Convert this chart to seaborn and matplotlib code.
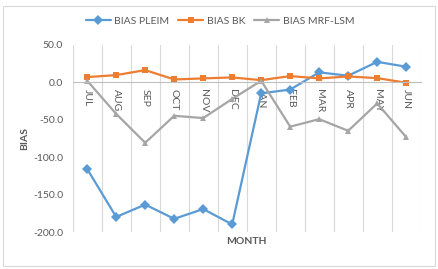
import pandas as pd
import matplotlib.pyplot as plt
import seaborn as sns
from matplotlib.patches import Rectangle

months = ['JUL', 'AUG', 'SEP', 'OCT', 'NOV', 'DEC', 'JAN', 'FEB', 'MAR', 'APR', 'MAY', 'JUN']
bias_pleim = [-115.5, -179.5, -163.0, -182.0, -169.0, -189.5, -14.5, -9.5, 13.5, 9.0, 27.5, 21.0]
bias_bk = [7.2, 9.8, 16.5, 4.0, 5.4, 6.7, 3.1, 8.5, 5.4, 8.0, 5.8, -0.4]
bias_mrf = [2.3, -42.0, -80.5, -44.5, -47.5, -22.0, 2.3, -59.0, -49.0, -64.5, -28.0, -73.0]

series_names = ['BIAS PLEIM', 'BIAS BK', 'BIAS MRF-LSM']
colors = {'BIAS PLEIM': '#5B9BD5', 'BIAS BK': '#ED7D31', 'BIAS MRF-LSM': '#A5A5A5'}
markers = {'BIAS PLEIM': 'D', 'BIAS BK': 's', 'BIAS MRF-LSM': '^'}

rows = []
for name, vals in zip(series_names, [bias_pleim, bias_bk, bias_mrf]):
    for i, v in enumerate(vals):
        rows.append({'idx': i, 'BIAS': v, 'series': name})
df = pd.DataFrame(rows)

sns.set_style('white')
plt.rcParams['font.family'] = ['Lato', 'DejaVu Sans']

fig = plt.figure(figsize=(4.39, 2.69), dpi=100)
ax = fig.add_axes([72.7 / 439, 1 - 232.3 / 269, 348 / 439, 187.3 / 269])

sns.lineplot(data=df, x='idx', y='BIAS', hue='series', style='series',
             hue_order=series_names, style_order=series_names,
             palette=colors, markers=markers, dashes=False,
             linewidth=1.6, markersize=5, markeredgewidth=0, ax=ax, legend=True)

# excel style: category axis crosses at zero
for s in ['top', 'right', 'left']:
    ax.spines[s].set_visible(False)
ax.spines['bottom'].set_position(('data', 0))
ax.spines['bottom'].set_color('#BFBFBF')
ax.spines['bottom'].set_linewidth(0.8)
ax.set_xlabel('')
ax.set_ylabel('')

ax.set_xlim(-0.5, 11.5)
ax.set_ylim(-200, 50)
ax.set_yticks([50, 0, -50, -100, -150, -200])
ax.set_yticklabels(['50.0', '0.0', '-50.0', '-100.0', '-150.0', '-200.0'])

ax.set_xticks(range(len(months)))
ax.set_xticks([i - 0.5 for i in range(len(months) + 1)], minor=True)
ax.set_xticklabels(months)
ax.grid(False)
ax.grid(True, which='minor', axis='x', color='#D9D9D9', linewidth=0.8)
ax.tick_params(axis='both', which='both', length=0, colors='#595959', labelsize=7.5)
ax.tick_params(axis='y', pad=7)
ax.tick_params(axis='x', pad=5, labelrotation=-90)
for lbl in ax.get_xticklabels():
    lbl.set_va('top')
    lbl.set_ha('center')

fig.text(246.7 / 439, 1 - 241.7 / 269, 'MONTH', ha='center', va='center',
         fontsize=7.5, fontweight='bold', color='#595959')
fig.text(25 / 439, 1 - 138 / 269, 'BIAS', ha='center', va='center', rotation=90,
         fontsize=7.5, fontweight='bold', color='#595959')

handles, labels = ax.get_legend_handles_labels()
ax.get_legend().remove()
fig.legend(handles, labels, loc='center', bbox_to_anchor=(220 / 439, 1 - 21 / 269),
           ncol=3, frameon=False, fontsize=7.5, handlelength=2.4, columnspacing=0.9,
           handletextpad=0.3, labelcolor='#595959')

fig.patches.append(Rectangle((3 / 439, 3 / 269), 432 / 439, 260 / 269, transform=fig.transFigure,
                             fill=False, edgecolor='#D9D9D9', linewidth=0.8))

fig.savefig('out.png', dpi=100)
